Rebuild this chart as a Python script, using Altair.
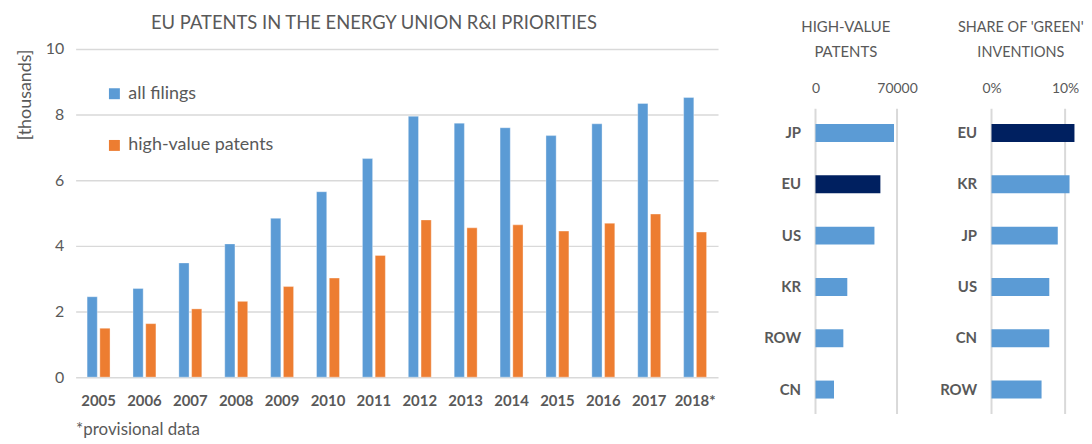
import altair as alt
import pandas as pd

# ---------------- data ----------------
years = ["2005", "2006", "2007", "2008", "2009", "2010", "2011",
         "2012", "2013", "2014", "2015", "2016", "2017", "2018*"]
all_filings = [2.45, 2.70, 3.48, 4.06, 4.84, 5.65, 6.66,
               7.95, 7.74, 7.60, 7.36, 7.72, 8.34, 8.52]
high_value = [1.49, 1.63, 2.08, 2.31, 2.76, 3.02, 3.71,
              4.79, 4.55, 4.64, 4.45, 4.69, 4.97, 4.42]
series_names = ["all filings", "high-value patents"]
series_colors = ["#5B9BD5", "#ED7D31"]
y_ticks = [0, 2, 4, 6, 8, 10]

hv_countries = ["JP", "EU", "US", "KR", "ROW", "CN"]
hv_values = [67400, 55700, 50600, 27300, 23900, 15900]
hv_ticks = [0, 70000]

green_countries = ["EU", "KR", "JP", "US", "CN", "ROW"]
green_shares = [0.1127, 0.1060, 0.0900, 0.0785, 0.0785, 0.0680]
green_ticks = [0, 0.1]

TXT = "#595959"
GRID = "#D9D9D9"
FONT = "Lato"

# ---------------- main chart ----------------
rows = []
for y, a, h in zip(years, all_filings, high_value):
    rows.append({"year": y, "series": series_names[0], "value": a})
    rows.append({"year": y, "series": series_names[1], "value": h})
main_df = pd.DataFrame(rows)

main = alt.Chart(main_df).mark_bar(stroke="#FFFFFF", strokeOpacity=0.35,
                                   strokeWidth=1).encode(
    x=alt.X("year:N", sort=years,
            scale=alt.Scale(paddingInner=0.5, paddingOuter=0.25),
            axis=alt.Axis(labelFontSize=15, labelFontWeight="bold", labelColor=TXT,
                          labelAngle=0, labelPadding=17, domain=False, ticks=False,
                          title="*provisional data", titleAnchor="start",
                          titleFontSize=17, titleFontWeight="normal", titleColor=TXT,
                          titlePadding=13)),
    xOffset=alt.XOffset("series:N", sort=series_names,
                        scale=alt.Scale(paddingInner=0.2, paddingOuter=0)),
    y=alt.Y("value:Q", scale=alt.Scale(domain=[0, 10], nice=False),
            axis=alt.Axis(values=y_ticks, labelFontSize=16, labelColor=TXT,
                          labelPadding=12, domain=False, ticks=False,
                          gridColor=GRID, gridWidth=1.5,
                          title="[thousands]", titleFontSize=18,
                          titleFontWeight="normal", titleColor=TXT,
                          titleAnchor="end", titlePadding=11)),
    color=alt.Color("series:N", sort=series_names,
                    scale=alt.Scale(domain=series_names, range=series_colors),
                    legend=alt.Legend(orient="none", legendX=30, legendY=36,
                                      title=None, symbolType="square",
                                      symbolSize=121, symbolStrokeWidth=0,
                                      labelFontSize=18, labelColor=TXT,
                                      labelOffset=5, rowPadding=34)),
).properties(
    width=646, height=330,
    title=alt.TitleParams("EU PATENTS IN THE ENERGY UNION R&I PRIORITIES",
                          fontSize=18.5, fontWeight="normal", color=TXT,
                          anchor="middle", dx=-23, offset=9),
)


# ---------------- side panels ----------------
def side_panel(countries, values, ticks, title_lines, fmt, domain_max, span,
               lead, title_x, title_size):
    df = pd.DataFrame({"country": countries, "value": values})
    tick_df = pd.DataFrame({"value": ticks})
    xscale = alt.Scale(domain=[0, domain_max], nice=False, zero=True,
                       range=[lead, lead + span])
    rules = alt.Chart(tick_df).mark_rule(color=GRID, strokeWidth=2).encode(
        x=alt.X("value:Q", scale=xscale),
        y=alt.value(60),
        y2=alt.value(367),
    )
    bars = alt.Chart(df).mark_bar().encode(
        x=alt.X("value:Q", scale=xscale,
                axis=alt.Axis(orient="top", values=ticks, format=fmt,
                              labelFontSize=14, labelColor=TXT, labelFlush=False,
                              domain=False, ticks=False, tickSize=0, grid=False,
                              offset=-60, labelPadding=13,
                              title=title_lines, titleFontSize=title_size,
                              titleFontWeight="normal", titleColor=TXT,
                              titleLineHeight=26, titlePadding=22,
                              titleX=title_x + lead)),
        y=alt.Y("country:N", sort=countries,
                scale=alt.Scale(range=[60, 367], paddingInner=0.65, paddingOuter=0.3),
                axis=alt.Axis(labelFontSize=15, labelFontWeight="bold",
                              labelColor=TXT, labelPadding=15 - lead, domain=False,
                              ticks=False, grid=False, title=None)),
        color=alt.condition(alt.datum.country == "EU",
                            alt.value("#002060"), alt.value("#5B9BD5")),
    )
    return alt.layer(rules, bars).properties(width=span + lead, height=367)


p2 = side_panel(hv_countries, hv_values, hv_ticks, ["HIGH-VALUE", "PATENTS"],
                "d", 70000, 82, 3, 30, 15)
p3 = side_panel(green_countries, green_shares, green_ticks,
                ["SHARE OF 'GREEN'", "INVENTIONS"], ".0%", 0.1135, 84, 0, 29, 14.5)

chart = alt.hconcat(main, p2, p3, spacing=95, bounds="flush").properties(
    padding={"left": 8, "top": 4, "right": 0, "bottom": 0}
).configure(font=FONT).configure_view(stroke=None)

chart.save("out.html", embed_options={"renderer": "svg", "actions": False})
